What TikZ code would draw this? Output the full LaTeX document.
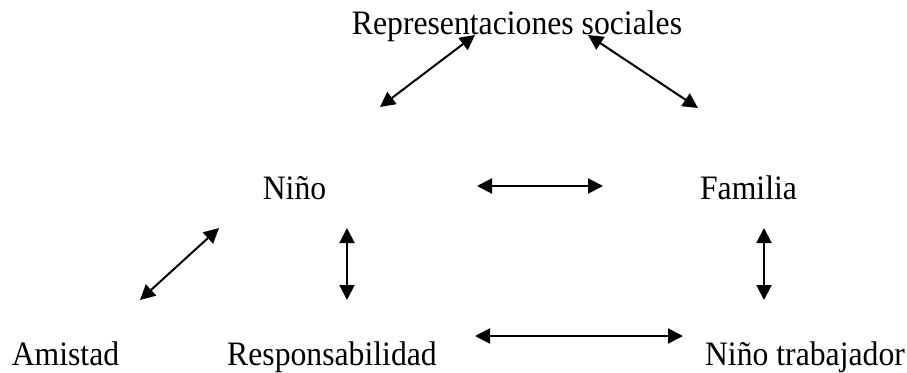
\documentclass[tikz,border=0pt]{standalone}
\usepackage{fontspec}
\setmainfont{Liberation Serif}
\usetikzlibrary{arrows.meta}
\newcommand{\vstretch}[1]{\scalebox{1}[1.08]{#1}}
\begin{document}
\begin{tikzpicture}[x=1pt,y=-1pt,
  lbl/.style={anchor=base,inner sep=0pt,font=\fontsize{31.7}{36}\selectfont},
  biarrow/.style={line width=2pt,{Triangle[length=15pt,width=15pt]}-{Triangle[length=15pt,width=15pt]}}]
\useasboundingbox (0,0) rectangle (907,372);
\node[lbl] (rep) at (517,34) {\vstretch{Representaciones sociales}};
\node[lbl] (nino) at (294.5,199) {\vstretch{Niño}};
\node[lbl] (fam) at (748.5,199) {\vstretch{Familia}};
\node[lbl] (amis) at (65.5,365) {\vstretch{Amistad}};
\node[lbl] (resp) at (332,365) {\vstretch{Responsabilidad}};
\node[lbl] (nt) at (805,365) {\vstretch{Niño trabajador}};
\coordinate (a1s) at (380,107); \coordinate (a1e) at (475,35);
\coordinate (a2s) at (588,35);  \coordinate (a2e) at (698,108);
\coordinate (a3s) at (477,186); \coordinate (a3e) at (603,186);
\coordinate (a4s) at (140,300); \coordinate (a4e) at (219,228);
\coordinate (a5s) at (347,228); \coordinate (a5e) at (347,300);
\coordinate (a6s) at (764,228); \coordinate (a6e) at (764,300);
\coordinate (a7s) at (475,336); \coordinate (a7e) at (683,336);
\draw[biarrow] (a1s) -- (a1e);
\draw[biarrow] (a2s) -- (a2e);
\draw[biarrow] (a3s) -- (a3e);
\draw[biarrow] (a4s) -- (a4e);
\draw[biarrow] (a5s) -- (a5e);
\draw[biarrow] (a6s) -- (a6e);
\draw[biarrow] (a7s) -- (a7e);
\end{tikzpicture}
\end{document}
